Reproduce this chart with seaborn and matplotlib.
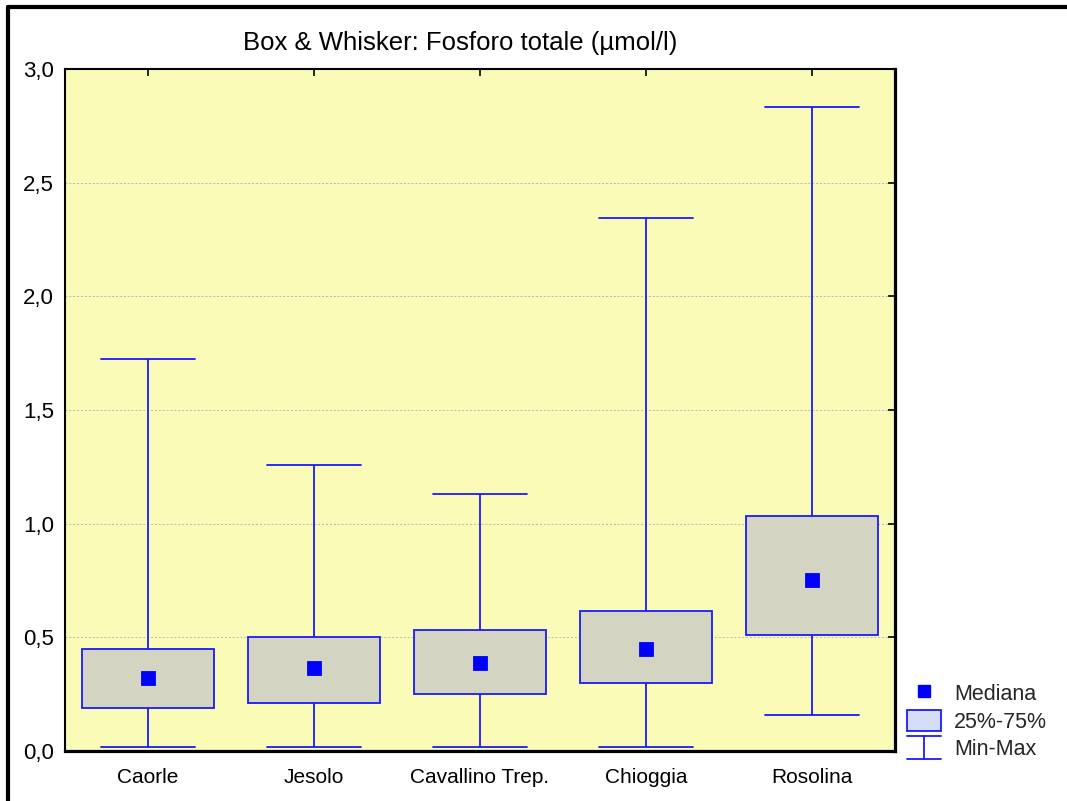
import numpy as np
import pandas as pd
import matplotlib
matplotlib.use("Agg")
import matplotlib.pyplot as plt
from matplotlib.lines import Line2D
from matplotlib.patches import Rectangle
from matplotlib.legend_handler import HandlerBase
from matplotlib.ticker import FuncFormatter, MultipleLocator
import seaborn as sns

# ---- data ----
categories = ["Caorle", "Jesolo", "Cavallino Trep.", "Chioggia", "Rosolina"]
mins = [0.016, 0.016, 0.016, 0.016, 0.158]
q1 = [0.187, 0.211, 0.251, 0.299, 0.510]
medians = [0.319, 0.365, 0.387, 0.449, 0.752]
q3 = [0.448, 0.502, 0.532, 0.616, 1.034]
maxs = [1.724, 1.258, 1.131, 2.345, 2.833]

title = "Box & Whisker: Fosforo totale (µmol/l)"
legend_labels = ["Mediana", "25%-75%", "Min-Max"]

# long-form table: 5 points per group -> quartiles fall exactly on them
rows = []
for c, a, b, m, d, e in zip(categories, mins, q1, medians, q3, maxs):
    for v in (a, b, m, d, e):
        rows.append({"site": c, "value": v})
df = pd.DataFrame(rows)
med_df = pd.DataFrame({"site": categories, "value": medians})

sns.set_theme(style="white")
plt.rcParams["font.family"] = ["Liberation Sans", "DejaVu Sans"]

fig = plt.figure(figsize=(10.67, 8.01), dpi=100)
ax = fig.add_axes([65 / 1067, 50 / 801, 830 / 1067, 682 / 801])
ax.set_facecolor("#fbfbb8")

box_fill = "#d4d4c2"
line_blue = "#1a1aff"

sns.boxplot(data=df, x="site", y="value", order=categories, ax=ax,
            whis=(0, 100), showfliers=False, width=0.8,
            color=box_fill, linecolor=line_blue, saturation=1,
            linewidth=1.3, capwidths=0.57,
            medianprops={"visible": False},
            boxprops={"zorder": 3, "facecolor": box_fill, "edgecolor": line_blue},
            whiskerprops={"zorder": 3}, capprops={"zorder": 3})

sns.pointplot(data=med_df, x="site", y="value", order=categories, ax=ax,
              color="blue", marker="s", linestyle="none", markersize=9,
              errorbar=None, zorder=6)

ax.set_xlim(-0.5, 4.5)
ax.set_ylim(0, 3.0)
ax.yaxis.set_major_locator(MultipleLocator(0.5))
ax.yaxis.set_major_formatter(FuncFormatter(lambda v, p: f"{v:.1f}".replace(".", ",")))
ax.set_xlabel("")
ax.set_ylabel("")
ax.set_axisbelow(True)
ax.yaxis.grid(True, linestyle=(0, (2, 2)), color="#b8b8b8", linewidth=0.7)
ax.xaxis.grid(False)

ax.tick_params(axis="both", which="both", direction="in", top=True, right=True,
               length=5, width=1.2, color="black", labelcolor="black")
ax.tick_params(axis="y", pad=8, labelsize=16)
ax.tick_params(axis="x", pad=12, labelsize=15)
for side, sp in ax.spines.items():
    sp.set_visible(True)
    sp.set_color("black")
    sp.set_linewidth(1.5 if side in ("left", "top") else 2.3)
    sp.set_zorder(10)

# title
fig.text(460 / 1067, 1 - 43 / 801, title, ha="center", va="center",
         fontsize=18.5, color="black")

# figure frame (left and top edges)
fig.add_artist(Line2D([8 / 1067, 8 / 1067], [0, 1 - 7 / 801], color="black",
                      linewidth=3, transform=fig.transFigure))
fig.add_artist(Line2D([8 / 1067, 1], [1 - 7 / 801, 1 - 7 / 801], color="black",
                      linewidth=3, transform=fig.transFigure))


class MinMaxHandler(HandlerBase):
    def create_artists(self, legend, orig_handle, xdescent, ydescent,
                       width, height, fontsize, trans):
        x0, x1 = -xdescent, -xdescent + width
        y0, y1 = -ydescent - 1, -ydescent + height + 1
        xm = (x0 + x1) / 2
        arts = [Line2D([x0, x1], [y1, y1]), Line2D([x0, x1], [y0, y0]),
                Line2D([xm, xm], [y0, y1])]
        for a in arts:
            a.set_color(line_blue)
            a.set_linewidth(1.3)
            a.set_transform(trans)
        return arts


h_med = Line2D([], [], color="blue", marker="s", linestyle="none", markersize=9)
h_box = Rectangle((0, 0), 1, 1, facecolor="#d6ddf6", edgecolor=line_blue, linewidth=1.3)
h_mm = object()
fig.legend([h_med, h_box, h_mm], legend_labels,
           handler_map={h_mm: MinMaxHandler()},
           loc="lower left", bbox_to_anchor=(907 / 1067, 41 / 801),
           frameon=False, fontsize=15.5, borderpad=0, borderaxespad=0,
           handlelength=1.6, handleheight=1.1, handletextpad=0.6,
           labelspacing=0.22)

fig.savefig("out.png", dpi=100)
